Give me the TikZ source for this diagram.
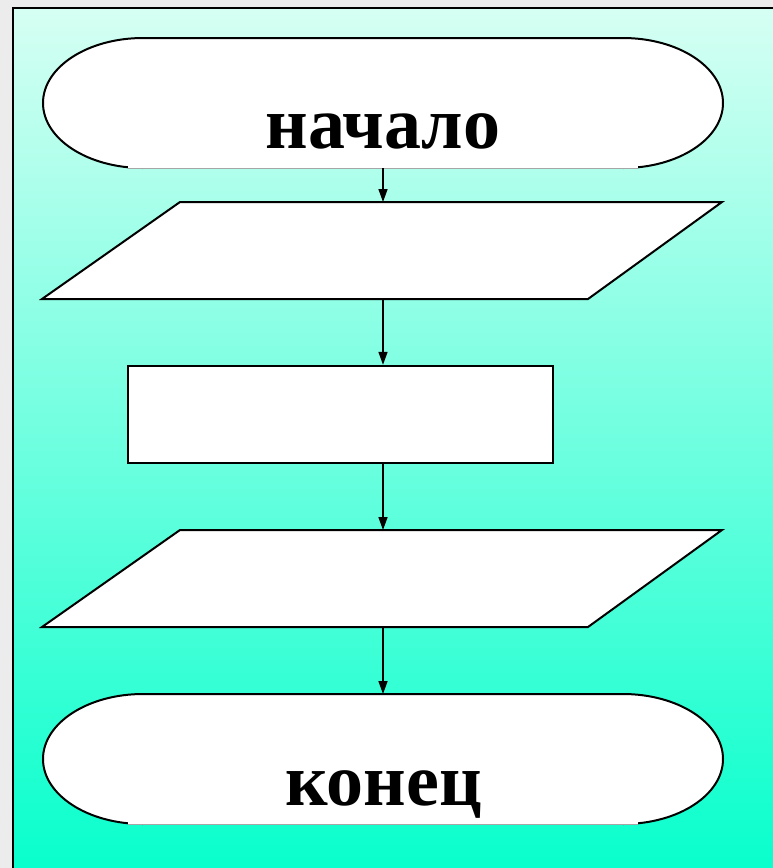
\documentclass[tikz,border=0pt]{standalone}
\usepackage{fontspec}
\setmainfont{Liberation Serif}
\usetikzlibrary{arrows.meta}
\definecolor{bgout}{RGB}{236,236,236}
\definecolor{topc}{RGB}{214,255,243}
\definecolor{botc}{RGB}{6,255,204}
\tikzset{
  shapeline/.style={draw=black, line width=2pt, fill=white, line join=miter},
  flow/.style={draw=black, line width=1.5pt, -{Triangle[length=13pt,width=9pt]}},
  label/.style={font=\bfseries\fontsize{74}{84}\selectfont, inner sep=0pt, anchor=base},
}
\begin{document}
\begin{tikzpicture}[x=1pt,y=-1pt]
\useasboundingbox (0,0) rectangle (773,868);
\clip (0,0) rectangle (773,868);
\fill[bgout] (0,0) rectangle (773,868);
\shade[top color=topc, bottom color=botc] (13,8) rectangle (790,880);
\draw[line width=2.2pt] (790,8) -- (13,8) -- (13,880);
% start terminator
\fill[white] (143,38) -- (623,38) arc[start angle=-90, end angle=90, x radius=100, y radius=65] -- (143,168) arc[start angle=90, end angle=270, x radius=100, y radius=65] -- cycle;
\draw[line width=2pt] (143,168) arc[start angle=90, end angle=270, x radius=100, y radius=65] -- (623,38) arc[start angle=-90, end angle=90, x radius=100, y radius=65];
\fill[white] (128,158) rectangle (638,169.2);
\draw[gray!70, line width=0.8pt] (128,168.6) -- (638,168.6);
\coordinate (startbot) at (383,168);
\node[label] (start) at (383,148) {начало};
% input parallelogram
\draw[shapeline] (180,202) -- (722,202) -- (588,299) -- (42,299) -- cycle;
\coordinate (intop) at (383,202);
\coordinate (inbot) at (383,299);
% process
\node[shapeline, line width=2.4pt, minimum width=425pt, minimum height=97pt, inner sep=0pt] (proc) at (340.5,414.5) {};
% output parallelogram
\draw[shapeline] (180,530) -- (722,530) -- (588,627) -- (42,627) -- cycle;
\coordinate (outtop) at (383,530);
\coordinate (outbot) at (383,627);
% end terminator
\fill[white] (143,694) -- (623,694) arc[start angle=-90, end angle=90, x radius=100, y radius=65] -- (143,824) arc[start angle=90, end angle=270, x radius=100, y radius=65] -- cycle;
\draw[line width=2pt] (143,824) arc[start angle=90, end angle=270, x radius=100, y radius=65] -- (623,694) arc[start angle=-90, end angle=90, x radius=100, y radius=65];
\fill[white] (128,814) rectangle (638,825.2);
\draw[gray!70, line width=0.8pt] (128,824.6) -- (638,824.6);
\coordinate (endtop) at (383,694);
\node[label] (end) at (383.5,805) {конец};
% connectors
\draw[flow] (startbot) -- (intop);
\draw[flow] (inbot) -- (proc.north -| inbot);
\draw[flow] (proc.south -| outtop) -- (outtop);
\draw[flow] (outbot) -- (endtop);
\end{tikzpicture}
\end{document}
